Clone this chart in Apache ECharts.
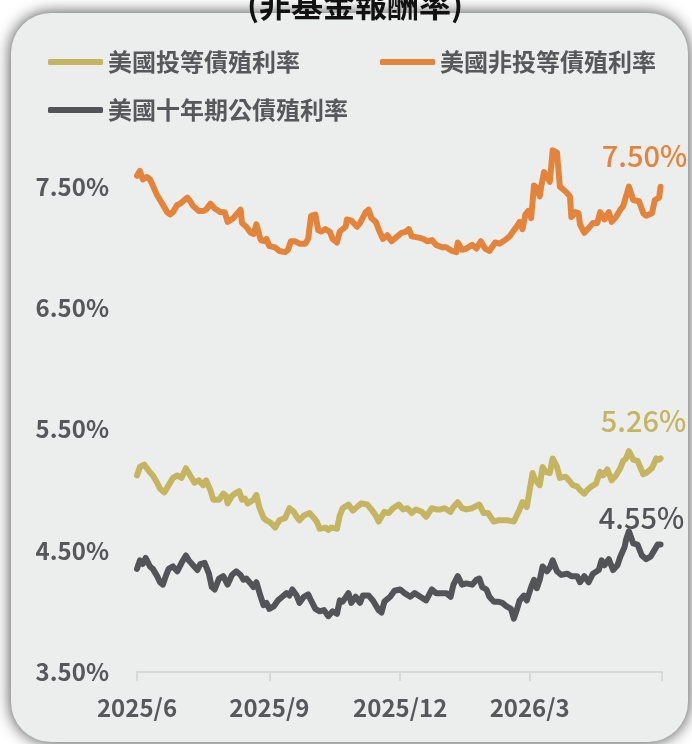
<!DOCTYPE html>
<html>
<head>
<meta charset="utf-8">
<script src="https://cdn.jsdelivr.net/npm/echarts@6/dist/echarts.min.js"></script>
<style>
html, body { margin: 0; padding: 0; background: #fff; }
#main-chart { width: 692px; height: 744px; }
</style>
</head>
<body>
<div id="main-chart"></div>
<script>
// days counted from 2025/6/1
var hyDay = [0,2,4,7,9,11,14,16,18,21,23,25,28,30,32,35,37,39,43,46,48,51,54,58,61,63,67,69,72,73,76,79,81,83,86,89,90,92,96,99,103,105,107,110,113,117,119,121,124,126,128,131,134,136,139,141,145,146,149,153,155,159,161,163,166,169,171,174,177,181,184,187,189,191,196,199,202,205,208,212,215,219,222,223,226,229,233,236,239,242,245,249,252,256,259,262,264,266,268,270,272,274,276,278,280,281,283,285,287,289,292,294,298,301,302,305,307,308,311,314,317,320,322,325,328,330,333,336,338,340,342,345,349,352,354,358,360,363,364];
var hyYield = [7.59,7.63,7.56,7.58,7.56,7.51,7.43,7.39,7.35,7.29,7.27,7.29,7.35,7.36,7.38,7.41,7.38,7.34,7.30,7.30,7.31,7.36,7.32,7.29,7.29,7.21,7.24,7.27,7.31,7.20,7.17,7.12,7.11,7.19,7.06,7.05,7.07,7.01,7.00,6.97,6.96,6.98,7.05,7.05,7.03,7.03,7.07,7.26,7.27,7.14,7.13,7.15,7.13,7.07,7.04,7.13,7.17,7.23,7.22,7.17,7.20,7.29,7.31,7.24,7.21,7.12,7.07,7.10,7.05,7.09,7.12,7.13,7.15,7.09,7.08,7.07,7.05,7.06,7.02,7.00,7.00,6.97,6.96,7.04,6.98,6.99,7.02,6.99,7.05,6.99,6.97,7.04,7.03,7.06,7.09,7.14,7.17,7.21,7.15,7.27,7.30,7.24,7.51,7.49,7.42,7.50,7.62,7.58,7.54,7.80,7.78,7.50,7.46,7.42,7.25,7.29,7.28,7.19,7.12,7.16,7.20,7.20,7.29,7.23,7.29,7.21,7.25,7.31,7.34,7.42,7.50,7.39,7.38,7.28,7.26,7.28,7.39,7.41,7.50];

var igDay = [0,2,5,8,11,14,16,19,22,25,28,31,34,37,40,43,46,48,51,53,57,60,62,63,66,68,71,73,75,77,81,83,85,88,90,93,96,99,103,106,109,111,113,116,120,123,125,127,131,133,135,139,141,143,147,150,153,156,160,163,166,168,172,175,178,182,185,188,191,194,198,201,205,208,211,214,218,220,223,226,229,233,236,238,241,244,248,251,255,258,262,264,266,268,271,273,275,277,280,282,284,287,289,292,294,298,301,303,306,308,311,313,316,319,322,324,327,330,333,336,338,340,342,345,348,352,354,358,361,363,364];
var igYield = [5.12,5.19,5.21,5.16,5.12,5.06,5.01,4.98,5.04,5.10,5.12,5.10,5.18,5.12,5.06,5.08,5.04,5.08,5.00,4.92,4.92,4.97,4.95,4.89,4.95,4.97,4.99,4.92,4.93,4.89,4.92,4.96,4.86,4.77,4.75,4.73,4.69,4.75,4.77,4.85,4.82,4.78,4.75,4.79,4.81,4.77,4.74,4.68,4.69,4.67,4.69,4.68,4.79,4.85,4.88,4.83,4.86,4.89,4.88,4.84,4.79,4.74,4.82,4.81,4.85,4.88,4.84,4.85,4.81,4.84,4.82,4.78,4.85,4.84,4.84,4.85,4.82,4.86,4.90,4.85,4.84,4.85,4.87,4.88,4.81,4.81,4.74,4.75,4.75,4.75,4.74,4.79,4.84,4.90,4.86,5.00,5.14,5.08,5.04,5.19,5.15,5.14,5.26,5.19,5.10,5.11,5.07,5.04,5.03,5.00,4.97,5.00,5.03,5.05,5.15,5.12,5.17,5.08,5.12,5.18,5.24,5.26,5.32,5.25,5.24,5.13,5.14,5.18,5.26,5.25,5.26];

var tyDay = [0,2,4,6,9,11,14,16,18,20,22,25,28,31,34,36,39,42,44,47,50,52,54,57,60,63,66,69,72,74,76,79,81,83,86,88,90,92,95,98,101,104,106,108,111,113,116,119,121,124,127,130,133,136,139,141,143,147,149,152,155,157,161,164,168,170,172,176,179,183,186,190,193,197,201,205,208,212,215,218,220,223,226,229,233,236,238,240,243,245,248,251,254,257,260,262,264,266,269,271,274,276,278,280,282,285,287,289,292,295,299,302,306,308,311,314,317,321,323,325,328,331,334,336,339,340,342,345,348,351,354,357,359,362,364];
var tyYield = [4.35,4.42,4.39,4.44,4.37,4.35,4.29,4.24,4.22,4.29,4.35,4.37,4.33,4.40,4.46,4.42,4.38,4.34,4.39,4.40,4.31,4.20,4.18,4.27,4.29,4.22,4.30,4.33,4.30,4.26,4.27,4.23,4.20,4.24,4.12,4.05,4.07,4.02,4.04,4.09,4.12,4.15,4.13,4.18,4.13,4.07,4.12,4.14,4.09,4.02,4.00,4.01,3.96,4.00,3.98,4.09,4.08,4.15,4.07,4.12,4.07,4.13,4.13,4.09,4.01,3.99,4.08,4.12,4.17,4.18,4.15,4.12,4.15,4.12,4.09,4.18,4.15,4.15,4.15,4.12,4.22,4.29,4.22,4.23,4.22,4.26,4.27,4.20,4.18,4.12,4.08,4.08,4.07,4.04,4.02,3.94,4.01,4.09,4.13,4.09,4.20,4.26,4.19,4.26,4.37,4.33,4.36,4.42,4.33,4.30,4.31,4.29,4.29,4.24,4.29,4.24,4.31,4.34,4.42,4.38,4.43,4.34,4.38,4.45,4.53,4.59,4.66,4.56,4.55,4.46,4.43,4.45,4.49,4.55,4.55];

var seriesNames = ['美國投等債殖利率', '美國非投等債殖利率', '美國十年期公債殖利率'];
var seriesColors = ['#c5b460', '#e4843a', '#535458'];
var xTicks = ['2025/6', '2025/9', '2025/12', '2026/3', '2026/6'];
var xLabels = ['2025/6', '2025/9', '2025/12', '2026/3'];

var startTime = new Date(2025, 5, 1).getTime();
function monthDay(s) {
    var p = s.split('/');
    return Math.round((new Date(+p[0], +p[1] - 1, 1).getTime() - startTime) / 86400000);
}
var labelByDay = {};
xLabels.forEach(function (s) { labelByDay[monthDay(s)] = s; });

function pairs(days, vals) {
    var out = [];
    for (var i = 0; i < days.length; i++) {
        out.push([days[i], vals[i]]);
    }
    return out;
}

var font = '"Noto Sans CJK TC", "Noto Sans", sans-serif';

function makeSeries(idx, days, vals, offset) {
    var last = vals.length - 1;
    return {
        name: seriesNames[idx],
        type: 'line',
        data: pairs(days, vals),
        showSymbol: false,
        color: seriesColors[idx],
        lineStyle: { width: 6, color: seriesColors[idx], cap: 'round', join: 'round' },
        markPoint: {
            symbol: 'circle',
            symbolSize: 1,
            itemStyle: { color: 'rgba(0,0,0,0)' },
            label: {
                show: true,
                position: 'inside',
                offset: offset,
                formatter: vals[last].toFixed(2) + '%',
                color: seriesColors[idx],
                fontFamily: font,
                fontSize: 29,
                fontWeight: 500
            },
            data: [{ coord: [days[last], vals[last]] }]
        }
    };
}

var myChart = echarts.init(document.getElementById('main-chart'));
var legendText = { color: '#57585b', fontSize: 24, fontWeight: 'bold', fontFamily: font };
option = {
    backgroundColor: '#ffffff',
    animation: false,
    graphic: [
        {
            type: 'rect',
            z: -10,
            shape: { x: 11, y: 13, width: 677, height: 729, r: 40 },
            style: { fill: '#eceeee', shadowBlur: 16, shadowColor: 'rgba(0,0,0,0.75)' }
        },
        {
            type: 'text',
            x: 355,
            y: 5,
            style: {
                text: '(非基金報酬率)',
                textAlign: 'center',
                textVerticalAlign: 'middle',
                fill: '#111',
                font: 'bold 32px ' + font
            }
        }
    ],
    legend: [
        { data: [seriesNames[0]], left: 48, top: 50, padding: 0, icon: 'roundRect', itemWidth: 55, itemHeight: 6, textStyle: legendText },
        { data: [seriesNames[1]], left: 380, top: 50, padding: 0, icon: 'roundRect', itemWidth: 55, itemHeight: 6, textStyle: legendText },
        { data: [seriesNames[2]], left: 48, top: 98, padding: 0, icon: 'roundRect', itemWidth: 55, itemHeight: 6, textStyle: legendText }
    ],
    grid: { left: 137, right: 30, top: 126, bottom: 72, containLabel: false },
    xAxis: {
        type: 'value',
        min: 0,
        max: monthDay(xTicks[xTicks.length - 1]),
        axisLine: { show: true, lineStyle: { color: '#d8d9d9', width: 2 } },
        axisTick: { show: true, length: 9, lineStyle: { color: '#d8d9d9', width: 2 }, customValues: xTicks.map(monthDay) },
        axisLabel: {
            customValues: xLabels.map(monthDay),
            margin: 24,
            color: '#57585b',
            fontSize: 24,
            fontWeight: 'bold',
            fontFamily: font,
            formatter: function (v) { return labelByDay[Math.round(v)] || ''; }
        },
        splitLine: { show: false }
    },
    yAxis: {
        type: 'value',
        min: 3.5,
        max: 8.0,
        interval: 1,
        axisLine: { show: false },
        axisTick: { show: false },
        splitLine: { show: false },
        axisLabel: {
            showMaxLabel: false,
            margin: 28,
            color: '#57585b',
            fontSize: 24,
            fontWeight: 'bold',
            fontFamily: font,
            formatter: function (v) { return v.toFixed(2) + '%'; }
        }
    },
    series: [
        makeSeries(0, igDay, igYield, [-17, -37]),
        makeSeries(1, hyDay, hyYield, [-16, -31]),
        makeSeries(2, tyDay, tyYield, [-19, -27])
    ]
};
myChart.setOption(option);
</script>
</body>
</html>
